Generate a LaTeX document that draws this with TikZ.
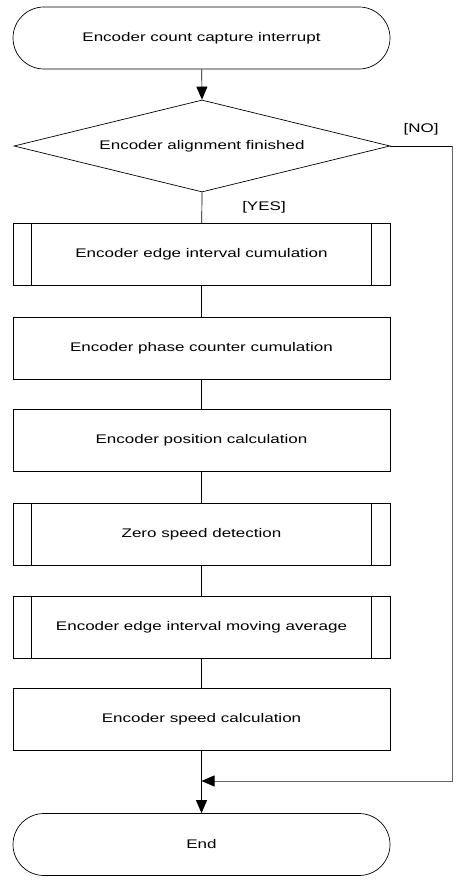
\documentclass[tikz,border=0pt]{standalone}
\usepackage{fontspec}
\setmainfont[FakeStretch=1.36]{Liberation Sans}
\usetikzlibrary{arrows.meta,shapes.geometric}
\begin{document}
\begin{tikzpicture}[x=1pt,y=-1pt,
  every node/.style={font=\fontsize{12.5}{14}\selectfont},
  line/.style={draw=black,line width=0.7pt},
  term/.style={line,rectangle,rounded corners=31pt,minimum width=377pt,minimum height=62pt,inner sep=0pt},
  proc/.style={line,rectangle,minimum width=377pt,minimum height=62pt,inner sep=0pt},
  dec/.style={line,diamond,aspect=4.087,minimum width=376pt,minimum height=92pt,inner sep=0pt},
  arr/.style={line,-{Triangle[length=13pt,width=11pt,black]}},
  lbl/.style={inner sep=0pt}]
\useasboundingbox (0,0) rectangle (462,882);
\node[term] (start) at (201.5,38) {Encoder count capture interrupt};
\node[dec] (dec) at (202,146) {Encoder alignment finished};
\node[proc] (b1) at (201.5,254.5) {Encoder edge interval cumulation};
\node[proc] (b2) at (201.5,348) {Encoder phase counter cumulation};
\node[proc] (b3) at (201.5,440.5) {Encoder position calculation};
\node[proc] (b4) at (201.5,534) {Zero speed detection};
\node[proc] (b5) at (201.5,627) {Encoder edge interval moving average};
\node[proc] (b6) at (201.5,719.5) {Encoder speed calculation};
\node[term] (end) at (201.5,844.5) {End};
\node[lbl] (yes) at (264,207) {[YES]};
\node[lbl] (no) at (421,129) {[NO]};
\coordinate (nr) at (452,146);
\coordinate (nb) at (452,781);
\coordinate (mg) at (201.5,781);
% subroutine inner lines
\foreach \b in {b1,b4,b5}{
  \draw[line] ([xshift=19pt]\b.north west) -- ([xshift=19pt]\b.south west);
  \draw[line] ([xshift=-19pt]\b.north east) -- ([xshift=-19pt]\b.south east);
}
\draw[arr] (start) -- (dec.north);
\draw[line] (dec.south) -- (b1);
\draw[line] (b1) -- (b2);
\draw[line] (b2) -- (b3);
\draw[line] (b3) -- (b4);
\draw[line] (b4) -- (b5);
\draw[line] (b5) -- (b6);
\draw[arr] (b6) -- (end);
\draw[line] (dec.east) -- (nr);
\draw[arr,draw=black!60] (nr) -- (nb) -- (mg);
\end{tikzpicture}
\end{document}
